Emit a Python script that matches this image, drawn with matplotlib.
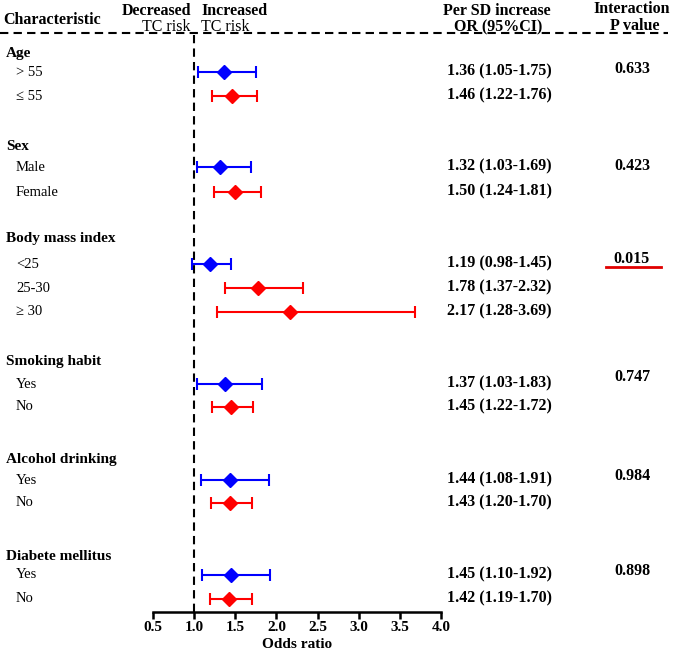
import matplotlib
matplotlib.use("Agg")
import matplotlib.pyplot as plt
from matplotlib.lines import Line2D

plt.rcParams['font.family'] = ['Liberation Serif', 'DejaVu Serif']

W, H = 673, 653

groups = ["Age", "Sex", "Body mass index", "Smoking habit", "Alcohol drinking", "Diabete mellitus"]
group_y = [53, 147, 238, 361, 459, 557]
sub_labels = ["> 55", "\u2264 55", "Male", "Female", "<25", "25-30", "\u2265 30",
              "Yes", "No", "Yes", "No", "Yes", "No"]
row_y = [72, 96, 167, 192, 264, 288, 312, 384, 407, 480, 503, 575, 599]
odds = [1.36, 1.46, 1.32, 1.50, 1.19, 1.78, 2.17, 1.37, 1.45, 1.44, 1.43, 1.45, 1.42]
lower = [1.05, 1.22, 1.03, 1.24, 0.98, 1.37, 1.28, 1.03, 1.22, 1.08, 1.20, 1.10, 1.19]
upper = [1.75, 1.76, 1.69, 1.81, 1.45, 2.32, 3.69, 1.83, 1.72, 1.91, 1.70, 1.92, 1.70]
colors = ["#0000FF", "#FF0000", "#0000FF", "#FF0000", "#0000FF", "#FF0000", "#FF0000",
          "#0000FF", "#FF0000", "#0000FF", "#FF0000", "#0000FF", "#FF0000"]
p_values = ["0.633", "0.423", "0.015", "0.747", "0.984", "0.898"]
p_y = [69, 166, 259, 377, 476, 571]
xticks = [0.5, 1.0, 1.5, 2.0, 2.5, 3.0, 3.5, 4.0]

fig = plt.figure(figsize=(W / 100, H / 100), dpi=100)

def fx(px):
    return px / W

def fy(py):
    return 1 - py / H

ax_left, ax_right, ax_top, ax_bot = 153, 441, 35, 612
ax = fig.add_axes([fx(ax_left), fy(ax_bot), (ax_right - ax_left) / W, (ax_bot - ax_top) / H])
ax.set_xlim(0.5, 4.0)
ax.set_ylim(ax_bot, ax_top)
for s in ["left", "top", "right"]:
    ax.spines[s].set_visible(False)
ax.spines["bottom"].set_linewidth(1.8)
ax.set_yticks([])
ax.set_xticks(xticks)
ax.set_xticklabels([f"{t:.1f}" for t in xticks], fontsize=11, fontweight="bold")
ax.tick_params(axis="x", direction="out", length=5, width=1.8, pad=1.5)
ax.set_xlabel("Odds ratio", fontsize=11, fontweight="bold", labelpad=3)
ax.patch.set_alpha(0)

ax.axvline(1.0, color="black", lw=1.5, dashes=(4, 2.5))

for o, lo, hi, y, c in zip(odds, lower, upper, row_y, colors):
    ax.errorbar([o], [y], xerr=[[o - lo], [hi - o]], fmt="D", color=c, ecolor=c,
                markersize=7.5, elinewidth=1.5, capsize=4, capthick=1.5, clip_on=False)

# Header
fig.add_artist(Line2D([fx(0), fx(668)], [fy(33), fy(33)], color="black", lw=1.5,
                      dashes=(4, 2.5)))
hfs = 11.5
fig.text(fx(3), fy(20), "Characteristic", fontsize=11.5, fontweight="bold", va="center", ha="left")
fig.text(fx(191), fy(11), "Decreased", fontsize=hfs, fontweight="bold", va="center", ha="right")
fig.text(fx(191), fy(27), "TC risk", fontsize=hfs, va="center", ha="right")
fig.text(fx(201), fy(11), "Increased", fontsize=hfs, fontweight="bold", va="center", ha="left")
fig.text(fx(201), fy(27), "TC risk", fontsize=hfs, va="center", ha="left")
fig.text(fx(497), fy(11), "Per SD increase", fontsize=hfs, fontweight="bold", va="center", ha="center")
fig.text(fx(498), fy(27), "OR (95%CI)", fontsize=hfs, fontweight="bold", va="center", ha="center")
fig.text(fx(632), fy(9), "Interaction", fontsize=hfs, fontweight="bold", va="center", ha="center")
fig.text(fx(635), fy(26), "P value", fontsize=hfs, fontweight="bold", va="center", ha="center")

for g, y in zip(groups, group_y):
    fig.text(fx(6), fy(y), g, fontsize=11, fontweight="bold", va="center", ha="left")

for lab, y in zip(sub_labels, row_y):
    fig.text(fx(16), fy(y), lab, fontsize=10.5, va="center", ha="left")

for o, lo, hi, y in zip(odds, lower, upper, row_y):
    fig.text(fx(447), fy(y - 1), f"{o:.2f} ({lo:.2f}-{hi:.2f})", fontsize=11.5,
             fontweight="bold", va="center", ha="left")

for p, y in zip(p_values, p_y):
    fig.text(fx(632), fy(y), p, fontsize=11.5, fontweight="bold", va="center", ha="center")

# underline for significant p-value
fig.add_artist(Line2D([fx(606), fx(661)], [fy(267), fy(267)], color="#E00000", lw=2))

fig.savefig("out.png", dpi=100)
